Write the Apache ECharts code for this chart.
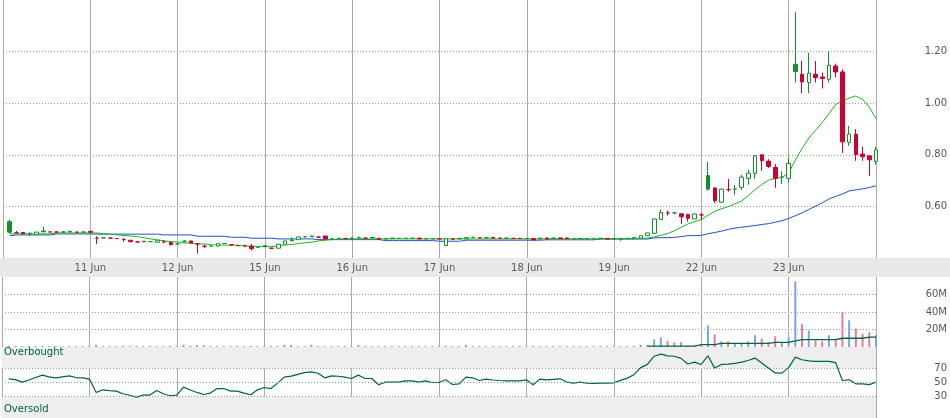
<!DOCTYPE html>
<html><head><meta charset="utf-8">
<script src="https://cdn.jsdelivr.net/npm/echarts@6/dist/echarts.min.js"></script>
<style>html,body{margin:0;padding:0;background:#fff}#c{width:950px;height:418px}</style>
</head><body><div id="c"></div>
<script>
// Day labels placed on the day-boundary grid lines (13 half-hour bars per day)
const dayLabels = ['11 Jun','12 Jun','15 Jun','16 Jun','17 Jun','18 Jun','19 Jun','22 Jun','23 Jun'];
const barsPerDay = 13;

const opens = [
 .5408,.4980,.4990,.4955,.4915,.5045,.5010,.5005,.5008,.5035,.5000,.5005,.5035,
 .4765,.4778,.4770,.4752,.4713,.4688,.4623,.4650,.4635,.4611,.4623,.4596,.4545,
 .4649,.4662,.4545,.4455,.4460,.4461,.4562,.4518,.4479,.4470,.4457,.4418,.4479,
 .4379,.4379,.4533,.4700,.4712,.4820,.4850,.4810,.4855,.4745,.4760,.4755,.4768,
 .4790,.4770,.4795,.4765,.4745,.4770,.4760,.4762,.4765,.4770,.4745,.4748,.4742,
 .4480,.4735,.4760,.4740,.4795,.4780,.4785,.4790,.4768,.4769,.4760,.4755,.4757,
 .4750,.4770,.4775,.4775,.4780,.4778,.4750,.4752,.4755,.4760,.4765,.4760,.4738,
 .4742,.4758,.4790,.4770,.4867,.4960,.5490,.5745,.5750,.5715,.5680,.5513,.5668,
 .7195,.6710,.6160,.6650,.6670,.6739,.7087,.7280,.8000,.7756,.7513,.7137,.7087,
 1.1509,1.1122,1.0800,1.1122,1.1017,1.0928,1.1444,1.1212,.8480,.8801,.8027,.7961,.7744];
const closes = [
 .5000,.4980,.4940,.4955,.5005,.5015,.5010,.5005,.5008,.5010,.5000,.5005,.4998,
 .4765,.4778,.4770,.4752,.4713,.4635,.4623,.4628,.4635,.4688,.4623,.4518,.4545,
 .4649,.4584,.4545,.4455,.4460,.4558,.4562,.4518,.4479,.4470,.4364,.4418,.4440,
 .4379,.4533,.4662,.4665,.4816,.4820,.4825,.4810,.4739,.4745,.4760,.4755,.4768,
 .4790,.4770,.4780,.4730,.4745,.4755,.4760,.4762,.4765,.4740,.4745,.4748,.4742,
 .4750,.4735,.4745,.4790,.4795,.4780,.4785,.4770,.4768,.4769,.4760,.4755,.4757,
 .4700,.4740,.4735,.4760,.4755,.4748,.4750,.4752,.4755,.4756,.4758,.4735,.4738,
 .4742,.4758,.4790,.4867,.4971,.5513,.5760,.5745,.5750,.5600,.5540,.5706,.5668,
 .6670,.6220,.6670,.6650,.6670,.7137,.7292,.7960,.7768,.7550,.7087,.7137,.7667,
 1.1226,1.0824,1.1161,1.0994,1.0956,1.1470,1.1212,.8503,.8801,.8000,.7923,.7806,.8193];
const lows = [
 .4950,.4940,.4930,.4845,.4905,.4998,.4995,.4970,.4975,.5005,.4995,.4990,.4990,
 .4545,.4760,.4745,.4745,.4635,.4595,.4595,.4610,.4625,.4605,.4572,.4490,.4540,
 .4600,.4580,.4170,.4380,.4450,.4455,.4550,.4470,.4470,.4420,.4287,.4390,.4430,
 .4350,.4370,.4530,.4660,.4705,.4810,.4815,.4790,.4735,.4730,.4750,.4720,.4760,
 .4760,.4750,.4770,.4714,.4720,.4750,.4755,.4755,.4760,.4735,.4740,.4745,.4738,
 .4475,.4700,.4730,.4735,.4790,.4760,.4765,.4765,.4750,.4765,.4740,.4735,.4752,
 .4690,.4735,.4730,.4755,.4750,.4745,.4748,.4750,.4730,.4752,.4755,.4730,.4735,
 .4662,.4740,.4760,.4765,.4860,.4932,.5480,.5650,.5690,.5320,.5410,.5510,.5480,
 .6607,.6130,.6140,.6570,.6441,.6634,.6839,.7060,.7380,.7490,.6723,.6865,.6932,
 1.0800,1.0387,1.0387,1.0800,1.0570,1.0800,1.1000,.8065,.8350,.7768,.7768,.7188,.7620];
const highs = [
 .5485,.5050,.5000,.4990,.5005,.5215,.5025,.5030,.5030,.5045,.5025,.5020,.5040,
 .4840,.4790,.4800,.4760,.4765,.4690,.4655,.4655,.4640,.4690,.4688,.4635,.4550,
 .4690,.4665,.4570,.4518,.4470,.4560,.4570,.4540,.4485,.4520,.4536,.4450,.4485,
 .4400,.4540,.4665,.4804,.4820,.4830,.4870,.4860,.4860,.4760,.4770,.4790,.4775,
 .4830,.4790,.4830,.4770,.4770,.4780,.4765,.4770,.4770,.4775,.4750,.4755,.4748,
 .4755,.4770,.4770,.4800,.4830,.4800,.4805,.4795,.4775,.4772,.4790,.4785,.4760,
 .4755,.4780,.4778,.4778,.4782,.4780,.4752,.4755,.4765,.4762,.4768,.4762,.4740,
 .4745,.4780,.4810,.4870,.4975,.5520,.5880,.5840,.5780,.5720,.5717,.5720,.5745,
 .7730,.6751,.6690,.7060,.6830,.7226,.7420,.7989,.8000,.7830,.7640,.7358,.7872,
 1.3530,1.1636,1.1960,1.1636,1.1187,1.2023,1.1535,1.1310,.9120,.8994,.8313,.7961,.8310];
// short (green) and long (blue) moving averages
const maShort = [
 .4935,.4935,.4935,.4935,.4935,.4935,.4935,.4970,.4970,.4970,.4970,.4970,.4970,
 .4970,.4945,.4920,.4895,.4875,.4855,.4830,.4785,.4740,.4700,.4665,.4634,.4620,
 .4584,.4570,.4545,.4545,.4507,.4507,.4500,.4495,.4495,.4470,.4456,.4456,.4441,
 .4441,.4480,.4505,.4525,.4560,.4590,.4615,.4665,.4690,.4715,.4730,.4739,.4739,
 .4739,.4739,.4739,.4739,.4739,.4739,.4739,.4739,.4739,.4739,.4739,.4739,.4739,
 .4739,.4739,.4739,.4739,.4739,.4739,.4739,.4739,.4739,.4739,.4739,.4739,.4739,
 .4739,.4739,.4739,.4739,.4739,.4739,.4739,.4739,.4739,.4739,.4739,.4739,.4739,
 .4739,.4740,.4745,.4760,.4775,.4820,.4880,.4950,.5060,.5190,.5320,.5410,.5490,
 .5660,.5810,.5910,.5990,.6100,.6210,.6420,.6650,.6850,.7020,.7080,.7125,.7300,
 .7800,.8250,.8650,.8950,.9250,.9600,.9950,1.0080,1.0200,1.0280,1.0150,.9850,.9400];
const maLong = [
 .4860,.4894,.4894,.4894,.4894,.4894,.4894,.4932,.4932,.4932,.4932,.4932,.4932,
 .4925,.4925,.4925,.4925,.4925,.4925,.4925,.4925,.4925,.4925,.4894,.4894,.4894,
 .4894,.4894,.4843,.4843,.4843,.4843,.4843,.4804,.4804,.4804,.4766,.4766,.4766,
 .4766,.4739,.4739,.4739,.4739,.4739,.4739,.4712,.4712,.4712,.4712,.4712,.4712,
 .4712,.4712,.4712,.4712,.4673,.4673,.4673,.4673,.4673,.4673,.4673,.4673,.4650,
 .4650,.4650,.4650,.4690,.4690,.4690,.4690,.4690,.4690,.4690,.4690,.4690,.4690,
 .4690,.4690,.4705,.4705,.4705,.4705,.4705,.4705,.4705,.4705,.4735,.4735,.4735,
 .4735,.4735,.4735,.4735,.4735,.4780,.4789,.4789,.4800,.4830,.4867,.4867,.4880,
 .4940,.4990,.5040,.5110,.5160,.5195,.5225,.5260,.5300,.5330,.5390,.5445,.5530,
 .5640,.5750,.5880,.6010,.6140,.6290,.6390,.6480,.6600,.6640,.6680,.6730,.6800];
// volume in millions
const volumes = [
 1.5,1.2,1.0,1.0,1.0,1.2,1.0,1.0,1.0,1.0,1.0,1.0,1.2,
 2.5,1.0,1.0,1.0,1.2,1.0,1.0,1.0,1.0,1.0,1.0,1.2,1.0,
 2.5,1.2,2.0,2.0,1.0,1.0,1.0,1.0,1.0,1.0,1.2,1.0,1.0,
 1.0,1.2,2.5,2.5,1.0,1.0,2.5,1.0,1.0,1.0,1.0,1.0,1.0,
 2.5,1.0,1.0,1.0,1.0,1.0,1.0,1.0,1.0,1.0,1.0,1.0,1.0,
 1.2,1.0,1.0,2.5,1.0,1.0,1.0,1.0,1.0,1.0,1.0,1.0,1.0,
 1.2,1.0,1.0,1.0,1.0,1.0,1.0,1.0,1.0,1.0,1.0,1.0,1.0,
 1.0,1.0,1.2,2.5,2.5,8.8,11.0,6.9,5.4,5.4,1.5,1.5,3.0,
 24.8,14.5,6.5,6.5,3.8,3.8,6.5,13.4,9.6,5.4,12.2,4.6,10.7,
 75,26,19,7.6,6.5,13.4,7.6,40,30.5,21,15.3,16.8,13.4];
// volume average line: visible from bar index 95 onward
const volAvgStart = 95;
const volAvg = [1.0,1.0,1.0,1.0,1.0,1.0,1.0,1.0,2.7,2.7,2.7,4.2,4.2,4.2,4.2,4.2,4.2,4.2,4.2,
 5.4,5.4,5.4,6.9,8.5,8.5,8.5,8.5,8.5,8.5,10.0,10.0,10.0,10.0,11.4,11.4];
const rsi = [
 55.2,54,50.5,53.5,57,60.4,58,56.6,58,59.4,57,56.6,54.8,
 35.9,39.7,38.5,37.9,34.1,32,29.4,32.3,32.3,38.7,34.1,31.3,32.3,
 43.5,39.5,36,33.1,35.1,41.5,41.5,37.9,37.9,35,32.7,39.7,43,
 41.5,49.1,57.6,59,61.5,64,65,63,56.6,59.4,58.8,57.5,55.6,
 60.4,55.6,55.6,46.8,50.6,50.6,50.6,52.4,52.4,50.6,52.4,50,50,
 53.8,47.2,48.1,57.6,56.6,52.8,54.8,53.5,52.8,52.4,52.4,52.4,53.8,
 46.8,54.8,53.8,54.5,55.2,50.6,49.2,50.6,49,48.7,49.2,49.2,49.6,
 53,56.2,61,71,75.5,87,90,87.6,87,84,76,78.7,75.4,
 87.6,70.3,75.4,76,77,78.7,81,84.4,77.5,70.5,63.5,63.2,71,
 85.8,82,80.5,79.7,79.7,79.7,78,52.8,53.8,48.2,48,47,50.6];
const rsiLevels = [30, 50, 70];

const GREEN = '#12902c', RED = '#cc0033', MA_G = '#1cb51c', MA_B = '#2450c8';
const VOL_UP = '#7aa7d8', VOL_DN = '#e67c9c', DARK = '#006633';
const FONT = 'DejaVu Sans';
const nSlots = opens.length;

const isUp = i => i === 0 || closes[i] >= closes[i - 1];
const candleData = opens.map((o, i) => {
  const c = closes[i];
  const col = isUp(i) ? GREEN : RED;
  const fill = c < o ? col : '#ffffff';
  return { value: [i + 1, o, c, lows[i], highs[i]],
    itemStyle: { color: fill, color0: fill, borderColor: col, borderColor0: col, borderColorDoji: col, borderWidth: 1 } };
});
const volData = volumes.map((v, i) => ({ value: [i + 1, v], itemStyle: { color: isUp(i) ? VOL_UP : VOL_DN } }));
const volAvgData = volAvg.map((v, k) => [volAvgStart + k + 1, v]);

const gridLeft = 2, gridRight = 73;
const dotted = { color: '#9a9a9a', type: [1, 2], width: 1 };
function xAx(gi, showLabel) {
  return { type: 'value', gridIndex: gi, min: 0, max: nSlots, interval: barsPerDay,
    axisLine: { show: false }, axisTick: { show: false },
    splitLine: { show: true, lineStyle: { color: '#aaaaaa', width: 1 } },
    axisLabel: { show: showLabel, margin: 5, color: '#5a5a5a', fontFamily: FONT, fontSize: 10,
      formatter: v => { const k = Math.round(v / barsPerDay) - 1; return dayLabels[k] || ''; } } };
}
const yLab = { color: '#555', fontFamily: FONT, fontSize: 10, align: 'right', margin: 71 };

const option = {
  animation: false,
  grid: [
    { left: gridLeft, right: gridRight, top: 0, height: 258 },
    { left: gridLeft, right: gridRight, top: 277, height: 70 },
    { left: gridLeft, right: gridRight, top: 347, height: 71 }
  ],
  xAxis: [xAx(0, true), xAx(1, false), xAx(2, false)],
  yAxis: [
    { type: 'value', gridIndex: 0, position: 'right', min: 0.4, max: 1.4, interval: 0.2,
      axisLine: { show: false }, axisTick: { show: false },
      axisLabel: Object.assign({ showMinLabel: false, showMaxLabel: false, formatter: v => v.toFixed(2) }, yLab),
      splitLine: { show: true, showMinLine: false, showMaxLine: false, lineStyle: dotted } },
    { type: 'value', gridIndex: 1, position: 'right', min: 0, max: 80, interval: 20,
      axisLine: { show: false }, axisTick: { show: false },
      axisLabel: Object.assign({ showMinLabel: false, showMaxLabel: false, formatter: v => v + 'M' }, yLab),
      splitLine: { show: true, showMinLine: false, showMaxLine: false, lineStyle: dotted } },
    { type: 'value', gridIndex: 2, position: 'right', min: 0, max: 100, interval: 10,
      axisLine: { show: false }, axisTick: { show: false },
      axisLabel: Object.assign({ formatter: v => rsiLevels.includes(v) ? String(v) : '' }, yLab),
      splitLine: { show: false } }
  ],
  graphic: [
    { type: 'rect', z: -10, silent: true, shape: { x: 0, y: 258, width: 950, height: 19 }, style: { fill: '#e9e9e9' } },
    { type: 'text', z: 10, left: 4, top: 347, style: { text: 'Overbought', fill: DARK, font: '10px "DejaVu Sans"' } },
    { type: 'text', z: 10, left: 4, top: 404, style: { text: 'Oversold', fill: DARK, font: '10px "DejaVu Sans"' } }
  ],
  series: [
    { type: 'line', xAxisIndex: 0, yAxisIndex: 0, data: maLong.map((v, i) => [i + 1, v]), symbol: 'none',
      lineStyle: { color: MA_B, width: 1 }, z: 2, silent: true },
    { type: 'line', xAxisIndex: 0, yAxisIndex: 0, data: maShort.map((v, i) => [i + 1, v]), symbol: 'none',
      lineStyle: { color: MA_G, width: 1 }, z: 2, silent: true },
    { type: 'candlestick', xAxisIndex: 0, yAxisIndex: 0, data: candleData, encode: { x: 0, y: [1, 2, 3, 4] },
      barWidth: 4, clip: false, z: 3, silent: true },
    { type: 'bar', xAxisIndex: 1, yAxisIndex: 1, data: volData, barWidth: 2, clip: false, silent: true, z: 2 },
    { type: 'line', xAxisIndex: 1, yAxisIndex: 1, data: volAvgData, symbol: 'none',
      lineStyle: { color: DARK, width: 1.3 }, z: 3, silent: true },
    { type: 'line', xAxisIndex: 2, yAxisIndex: 2, data: rsi.map((v, i) => [i + 1, v]), symbol: 'none',
      lineStyle: { opacity: 0 }, z: -1, silent: true,
      markArea: { silent: true, itemStyle: { color: '#eeeeee' }, label: { show: false },
        data: [[{ yAxis: 70 }, { yAxis: 100 }], [{ yAxis: 0 }, { yAxis: 30 }]] },
      markLine: { silent: true, symbol: ['none', 'none'], label: { show: false },
        lineStyle: dotted, data: rsiLevels.map(v => ({ yAxis: v })) } },
    { type: 'line', xAxisIndex: 2, yAxisIndex: 2, data: rsi.map((v, i) => [i + 1, v]), symbol: 'none',
      lineStyle: { color: DARK, width: 1.2 }, z: 3, silent: true }
  ]
};
const chart = echarts.init(document.getElementById('c'), null, { renderer: 'canvas' });
chart.setOption(option);
</script></body></html>
